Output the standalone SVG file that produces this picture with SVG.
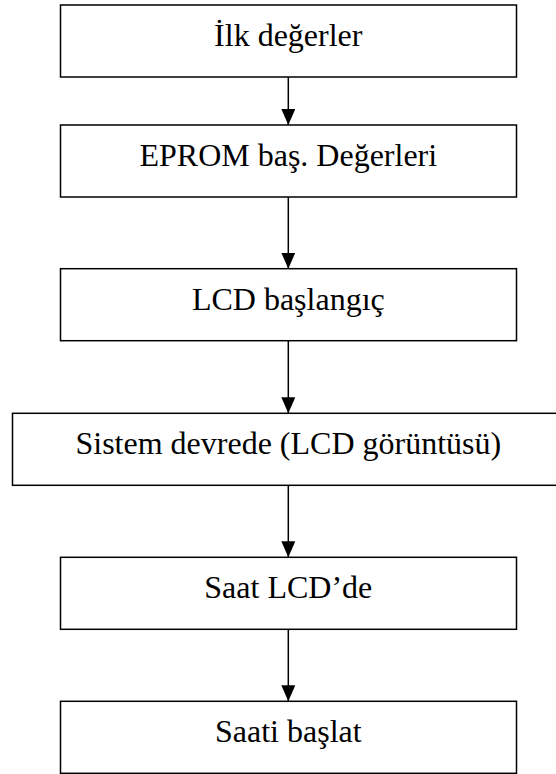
<svg xmlns="http://www.w3.org/2000/svg" width="556" height="774" viewBox="0 0 556 774">
  <style>
    .box { fill: #ffffff; stroke: #000000; stroke-width: 1.5; }
    .label { font-family: "Liberation Serif", "Times New Roman", serif; font-size: 32px; fill: #000000; text-anchor: middle; }
    .flow { stroke: #000000; stroke-width: 1.5; fill: none; marker-end: url(#arrow); }
  </style>
  <defs>
    <marker id="arrow" markerUnits="userSpaceOnUse" markerWidth="16" markerHeight="14" refX="16" refY="7" orient="auto">
      <path d="M0,0 L16,7 L0,14 z" fill="#000000"/>
    </marker>
  </defs>
  <rect width="556" height="774" fill="#ffffff"/>

  <g id="connectors">
    <line class="flow" x1="288.3" y1="77" x2="288.3" y2="125"/>
    <line class="flow" x1="288.3" y1="197" x2="288.3" y2="268.7"/>
    <line class="flow" x1="288.3" y1="340.7" x2="288.3" y2="413.3"/>
    <line class="flow" x1="288.3" y1="485.3" x2="288.3" y2="557.3"/>
    <line class="flow" x1="288.3" y1="629.3" x2="288.3" y2="701.3"/>
  </g>

  <g id="ilk-degerler">
    <rect class="box" x="60.5" y="5" width="456" height="72"/>
    <text class="label" x="288.3" y="46">İlk değerler</text>
  </g>

  <g id="eprom-bas-degerleri">
    <rect class="box" x="60.5" y="125" width="456" height="72"/>
    <text class="label" x="288.3" y="166">EPROM baş. Değerleri</text>
  </g>

  <g id="lcd-baslangic">
    <rect class="box" x="60.5" y="268.7" width="456" height="72"/>
    <text class="label" x="288.3" y="310">LCD başlangıç</text>
  </g>

  <g id="sistem-devrede">
    <rect class="box" x="12.5" y="413.3" width="552" height="72"/>
    <text class="label" x="288.3" y="454.3">Sistem devrede (LCD görüntüsü)</text>
  </g>

  <g id="saat-lcdde">
    <rect class="box" x="60.5" y="557.3" width="456" height="72"/>
    <text class="label" x="288.3" y="598.3">Saat LCD’de</text>
  </g>

  <g id="saati-baslat">
    <rect class="box" x="60.5" y="701.3" width="456" height="72"/>
    <text class="label" x="288.3" y="742">Saati başlat</text>
  </g>
</svg>
